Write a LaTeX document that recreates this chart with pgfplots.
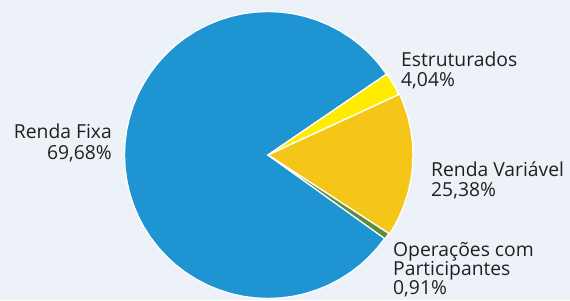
\documentclass[border=0pt]{standalone}
\usepackage{pgfplots}
\pgfplotsset{compat=1.18}
\usepackage{fontspec}
\setmainfont{Open Sans}
\definecolor{bg}{HTML}{EDF2F9}
\definecolor{rfixa}{HTML}{1E94D2}
\definecolor{estr}{HTML}{FFEC00}
\definecolor{rvar}{HTML}{F5C518}
\definecolor{oper}{HTML}{5E8C3A}
\definecolor{txt}{HTML}{231F20}
\tikzset{lbl/.style={inner sep=0pt, text=txt, font=\fontsize{19.3}{20}\selectfont}}
\begin{document}
\begin{tikzpicture}
\fill[bg] (0,0) rectangle (570pt,300pt);
\clip (0,0) rectangle (570pt,300pt);
\begin{axis}[at={(0,0)}, anchor=south west, scale only axis,
  width=570pt, height=300pt,
  xmin=-268, xmax=302, ymin=-145, ymax=155,
  hide axis, clip=false]
% Renda Fixa
\addplot[data cs=polar, fill=rfixa, draw=white, line width=1.3pt] coordinates {
(0,0) (34.3,143.5) (40,143.5) (45,143.5) (50,143.5) (55,143.5) (60,143.5) (65,143.5) (70,143.5)
(75,143.5) (80,143.5) (85,143.5) (90,143.5) (95,143.5) (100,143.5) (105,143.5) (110,143.5)
(115,143.5) (120,143.5) (125,143.5) (130,143.5) (135,143.5) (140,143.5) (145,143.5) (150,143.5)
(155,143.5) (160,143.5) (165,143.5) (170,143.5) (175,143.5) (180,143.5) (185,143.5) (190,143.5)
(195,143.5) (200,143.5) (205,143.5) (210,143.5) (215,143.5) (220,143.5) (225,143.5) (230,143.5)
(235,143.5) (240,143.5) (245,143.5) (250,143.5) (255,143.5) (260,143.5) (265,143.5) (270,143.5)
(275,143.5) (280,143.5) (285,143.5) (290,143.5) (295,143.5) (300,143.5) (305,143.5) (310,143.5)
(315,143.5) (320,143.5) (324.5,143.5)} -- cycle;
% Estruturados
\addplot[data cs=polar, fill=estr, draw=white, line width=1.3pt] coordinates {
(0,0) (24.8,144) (27,144) (30,144) (32,144) (34.3,144)} -- cycle;
% Renda Variavel
\addplot[data cs=polar, fill=rvar, draw=white, line width=1.3pt] coordinates {
(0,0) (-33,145) (-30,145) (-25,145) (-20,145) (-15,145) (-10,145) (-5,145) (0,145)
(5,145) (10,145) (15,145) (20,145) (24.8,145)} -- cycle;
% Operacoes com Participantes
\addplot[data cs=polar, fill=oper, draw=white, line width=1.3pt] coordinates {
(0,0) (-35.6,144) (-34.3,144) (-33,144)} -- cycle;
% labels
\node[lbl, anchor=base east] at (axis cs:-156,16) {Renda Fixa};
\node[lbl, anchor=base east] at (axis cs:-156,-5) {69,68\%};
\node[lbl, anchor=base west] at (axis cs:133,88) {Estruturados};
\node[lbl, anchor=base west] at (axis cs:133,68) {4,04\%};
\node[lbl, anchor=base west] at (axis cs:163,-22) {Renda Variável};
\node[lbl, anchor=base west] at (axis cs:163,-42) {25,38\%};
\node[lbl, anchor=base west] at (axis cs:125,-101) {Operações com};
\node[lbl, anchor=base west] at (axis cs:125,-120) {Participantes};
\node[lbl, anchor=base west] at (axis cs:125,-139) {0,91\%};
\end{axis}
\end{tikzpicture}
\end{document}
